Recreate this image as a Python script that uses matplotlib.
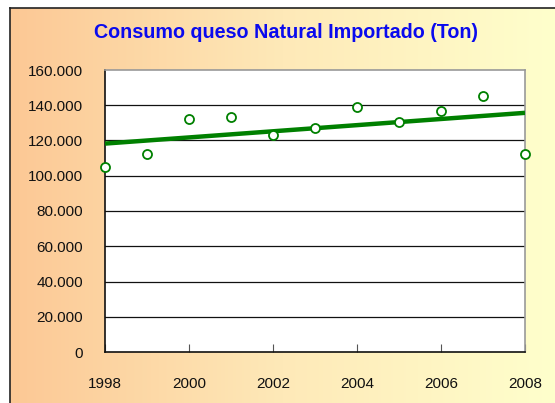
import numpy as np
import matplotlib
matplotlib.use("Agg")
import matplotlib.pyplot as plt
from matplotlib.colors import LinearSegmentedColormap
from matplotlib.ticker import FuncFormatter

years = [1998, 1999, 2000, 2001, 2002, 2003, 2004, 2005, 2006, 2007, 2008]
consumo = [105000, 112300, 132200, 133300, 123100, 127100, 139000, 130500, 136700, 145200, 112300]
title = "Consumo queso Natural Importado (Ton)"
x_ticks = [1998, 2000, 2002, 2004, 2006, 2008]
y_ticks = [0, 20000, 40000, 60000, 80000, 100000, 120000, 140000, 160000]

plt.rcParams['font.family'] = ['Liberation Sans', 'DejaVu Sans']

W, H = 555, 403
fig = plt.figure(figsize=(W / 100, H / 100), dpi=100)
fig.patch.set_facecolor('white')

# gradient background frame
bg = fig.add_axes([10 / W, 0, (W - 10) / W, (H - 8) / H])
cmap = LinearSegmentedColormap.from_list('g', ['#FCC895', '#FEE9B8', '#FFFFCC'])
bg.imshow(np.linspace(0, 1, 256).reshape(1, -1), cmap=cmap, aspect='auto',
          extent=[0, 1, 0, 1])
bg.set_xlim(0, 1)
bg.set_ylim(0, 1)
bg.set_xticks([])
bg.set_yticks([])
for s in ['right', 'bottom']:
    bg.spines[s].set_visible(False)
for s in ['left', 'top']:
    bg.spines[s].set_color('#222222')
    bg.spines[s].set_linewidth(1.2)

ax = fig.add_axes([105 / W, (H - 352) / H, (525 - 105) / W, (352 - 70) / H])
ax.set_facecolor('white')
ax.set_xlim(1998, 2008)
ax.set_ylim(0, 160000)
ax.set_yticks(y_ticks)
ax.set_xticks(x_ticks)
ax.yaxis.set_major_formatter(FuncFormatter(lambda v, p: f"{int(v):,}".replace(',', '.')))
for y in y_ticks[1:-1]:
    ax.axhline(y, color='#111111', lw=0.9, zorder=1)

ax.tick_params(axis='y', length=0, pad=16, labelsize=11, labelcolor='#111111')
ax.tick_params(axis='x', direction='in', length=6, width=0.8, color='#555555',
               pad=18, labelsize=11, labelcolor='#111111')

ax.spines['left'].set_color('#111111')
ax.spines['bottom'].set_color('#111111')
ax.spines['top'].set_color('#999999')
ax.spines['right'].set_color('#999999')
for s in ax.spines.values():
    s.set_linewidth(1.2)

xa = np.array(years, dtype=float)
ya = np.array(consumo, dtype=float)
m, b = np.polyfit(xa, ya, 1)
ax.plot([years[0], years[-1]], [m * years[0] + b, m * years[-1] + b],
        color='#008000', lw=3.2, zorder=3, solid_capstyle='butt')
ax.plot(years, consumo, 'o', ms=6.5, mfc='white', mec='#008000', mew=1.3,
        zorder=4, clip_on=False, linestyle='none')

fig.text(286 / W, 1 - 33 / H, title, ha='center', va='center',
         color='#0A0AEE', fontsize=14.2, fontweight='bold')

fig.savefig('out.png', dpi=100)
